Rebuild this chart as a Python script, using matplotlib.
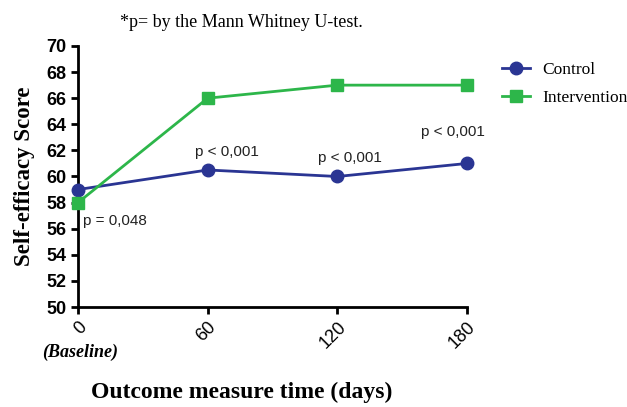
import matplotlib
matplotlib.use("Agg")
import matplotlib.pyplot as plt

days = [0, 60, 120, 180]
control = [59, 60.5, 60, 61]
intervention = [58, 66, 67, 67]
yticks = list(range(50, 72, 2))
pvals = ["p = 0,048", "p < 0,001", "p < 0,001", "p < 0,001"]
p_pos = [(2.5, 56.6, "left"), (69, 61.9, "center"), (126, 61.4, "center"), (173.5, 63.4, "center")]

fig = plt.figure(figsize=(6.27, 4.07), dpi=100)
ax = fig.add_axes([0.1244, 0.2457, 0.6204, 0.6413])

blue = "#2a3593"
green = "#2db64a"
ax.plot(days, control, color=blue, marker="o", markersize=9, lw=2, label="Control", clip_on=False, zorder=3)
ax.plot(days, intervention, color=green, marker="s", markersize=9, lw=2, label="Intervention", clip_on=False, zorder=3)

ax.set_xlim(0, 180)
ax.set_ylim(50, 70)
ax.set_yticks(yticks)
ax.set_xticks(days)
for s in ["top", "right"]:
    ax.spines[s].set_visible(False)
for s in ["left", "bottom"]:
    ax.spines[s].set_linewidth(2)
ax.tick_params(width=2, length=5, labelsize=13)
for lab in ax.get_yticklabels():
    lab.set_fontfamily("Liberation Sans")
    lab.set_fontweight("bold")
ax.set_xticklabels([str(d) for d in days], rotation=45, ha="right", rotation_mode="anchor",
                   fontfamily="Liberation Sans", fontsize=13)

for t, (x, y, ha) in zip(pvals, p_pos):
    ax.text(x, y, t, ha=ha, va="center", fontsize=11, family="Liberation Sans", color="#222222")

ax.set_ylabel("Self-efficacy Score", fontfamily="Liberation Serif", fontweight="bold", fontsize=16.5, labelpad=8)
fig.text(0.386, 0.035, "Outcome measure time (days)", ha="center", va="center",
         fontfamily="Liberation Serif", fontweight="bold", fontsize=17)
fig.text(0.385, 0.945, "*p= by the Mann Whitney U-test.", ha="center", va="center",
         fontfamily="Liberation Serif", fontsize=13)
fig.text(0.128, 0.135, "(Baseline)", ha="center", va="center",
         fontfamily="Liberation Serif", fontweight="bold", style="italic", fontsize=13)

leg = ax.legend(loc="upper left", bbox_to_anchor=(1.05, 1.0), frameon=False,
                prop={"family": "Liberation Serif", "size": 12.5}, handlelength=1.6,
                handletextpad=0.7, labelspacing=0.7)

fig.savefig("out.png", dpi=100)
